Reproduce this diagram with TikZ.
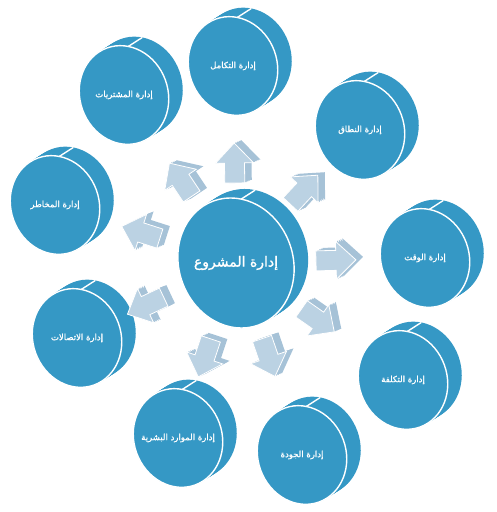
\documentclass[tikz,border=0pt]{standalone}
\usepackage{fontspec}
\usetikzlibrary{calc}
\newfontfamily\arabicfont[Script=Arabic,FakeBold=1.2]{DejaVu Sans}
\TeXXeTstate=1
\definecolor{diskblue}{HTML}{3598C5}
\definecolor{arrowface}{HTML}{BBD2E3}
\definecolor{arrowside}{HTML}{A6C2D7}

\begin{document}
\begin{tikzpicture}[x=1pt,y=1pt]
  \def\CX{236}
  \def\CY{249}
  \def\DX{14}
  \def\DY{9}
  \def\AX{7}
  \def\AY{3}
  \def\ADIST{100}
  \def\TILT{20}
  \def\SATS{integ/233/446/{إدارة التكامل},
    procur/124/417/{إدارة المشتريات},
    scopem/360/382/{إدارة النطاق},
    timem/425/254/{إدارة الوقت},
    risk/55/307/{إدارة المخاطر},
    comms/77/174/{إدارة الاتصالات},
    hr/178/74/{إدارة الموارد البشرية},
    quality/302/57/{إدارة الجودة},
    cost/403/132/{إدارة التكلفة}}

  \tikzset{
    disklabel/.style={text=white,inner sep=0pt,
      font=\arabicfont\fontsize{8.5}{10}\selectfont},
    rim/.style={draw=white,line width=1.4pt},
    arrowface/.style={fill=arrowface,draw=white,line width=0.8pt},
  }

  \useasboundingbox (0,0) rectangle (497,512);

  % disks: centre first, then the nine around it
  \foreach \t in {10,9,...,0}
    \fill[diskblue,shift={(\CX+\t*\DX/10,\CY+\t*\DY/10)},rotate=\TILT]
      (0,0) ellipse (57 and 66);
  \draw[rim,fill=diskblue,shift={(\CX,\CY)},rotate=\TILT]
    (0,0) ellipse (57 and 66) (62:57 and 66) coordinate (ptop);
  \draw[rim] (ptop) -- ++(\DX,\DY);
  \node[disklabel,font=\arabicfont\fontsize{14}{16}\selectfont] (proj)
    at (\CX,\CY) {\beginR إدارة المشروع\endR};

  \foreach \nm/\x/\y/\txt in \SATS {
    \foreach \t in {10,9,...,0}
      \fill[diskblue,shift={(\x+\t*\DX/10,\y+\t*\DY/10)},rotate=\TILT]
        (0,0) ellipse (44 and 50);
    \draw[rim,fill=diskblue,shift={(\x,\y)},rotate=\TILT]
      (0,0) ellipse (44 and 50) (62:44 and 50) coordinate (top-\nm);
    \draw[rim] (top-\nm) -- ++(\DX,\DY);
    \node[disklabel] (\nm) at (\x,\y) {\beginR\txt\endR};
  }

  % block arrows from the centre towards each disk
  \foreach \nm/\x/\y/\txt in \SATS {
    \pgfmathsetmacro\ang{atan2(\y-\CY,\x-\CX)}
    \coordinate (a-\nm) at ($(proj)!\ADIST pt!(\nm)$);
    \foreach \t in {4,3,2,1}
      \fill[arrowside,shift={($(a-\nm)+(\t*\AX/4,\t*\AY/4)$)},rotate=\ang]
        (-20,-10) -- (0,-10) -- (0,-19) -- (20,0) -- (0,19) -- (0,10)
        -- (-20,10) -- cycle;
    \draw[arrowface,shift={(a-\nm)},rotate=\ang]
      (-20,-10) -- (0,-10) -- (0,-19) -- (20,0) -- (0,19) -- (0,10)
      -- (-20,10) -- cycle;
  }
\end{tikzpicture}
\end{document}
